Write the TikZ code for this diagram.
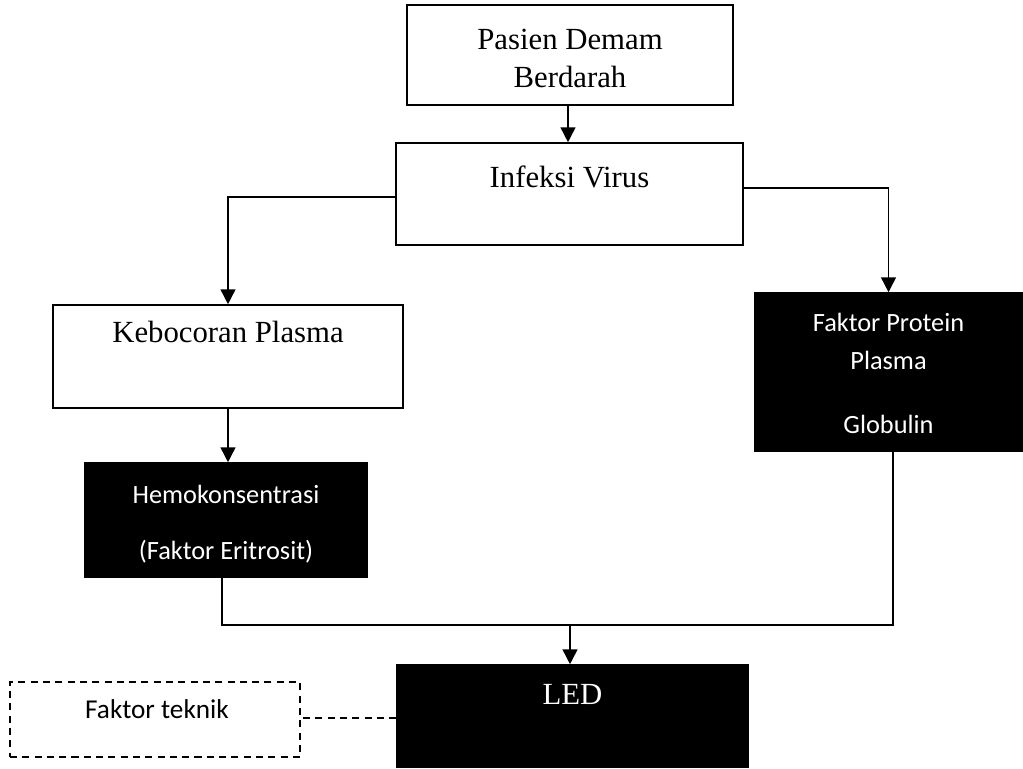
\documentclass[tikz,border=0pt]{standalone}
\usepackage{fontspec}
\setmainfont{Liberation Serif}
\newfontfamily\calib{Carlito}
\usetikzlibrary{arrows.meta}
\begin{document}
\begin{tikzpicture}[x=0.02cm,y=-0.02cm,
  wbox/.style={draw,line width=0.9pt,fill=white,inner sep=0pt},
  bbox/.style={draw,line width=0.9pt,fill=black,inner sep=0pt},
  dbox/.style={draw,dashed,line width=0.9pt,inner sep=0pt,dash pattern=on 4pt off 3pt},
  stxt/.style={font=\fontsize{17.5}{21}\selectfont,inner sep=0pt,anchor=base},
  btxt/.style={font=\calib\fontsize{15}{18}\selectfont,text=white,inner sep=0pt,anchor=base},
  line/.style={line width=0.9pt},
  arr/.style={line width=0.9pt,-{Triangle[length=8.5pt,width=8.5pt]}}]
\useasboundingbox[fill=white] (0,0) rectangle (1023,768);
% boxes
\node[wbox,minimum width=326*0.02cm,minimum height=100*0.02cm] (pas) at (570,55) {};
\node[stxt] (pasT1) at (570,49) {Pasien Demam};
\node[stxt] (pasT2) at (570,87) {Berdarah};
\node[wbox,minimum width=347*0.02cm,minimum height=102*0.02cm] (inf) at (569.5,194) {};
\node[stxt] (infT) at (569.5,187) {Infeksi Virus};
\node[wbox,minimum width=350*0.02cm,minimum height=103*0.02cm] (keb) at (228,356.5) {};
\node[stxt] (kebT) at (228,342) {Kebocoran Plasma};
\node[bbox,minimum width=282*0.02cm,minimum height=114*0.02cm] (hem) at (226,520) {};
\node[btxt] (hemT1) at (226,503) {Hemokonsentrasi};
\node[btxt] (hemT2) at (226,559) {(Faktor Eritrosit)};
\node[bbox,minimum width=267*0.02cm,minimum height=158*0.02cm] (fp) at (888.5,372) {};
\node[btxt] (fpT1) at (888.5,331) {Faktor Protein};
\node[btxt] (fpT2) at (888.5,369) {Plasma};
\node[btxt] (fpT3) at (888.5,433) {Globulin};
\node[bbox,minimum width=351*0.02cm,minimum height=102*0.02cm] (led) at (572.5,716) {};
\node[stxt,text=white] (ledT) at (572.5,704) {LED};
\node[dbox,minimum width=290*0.02cm,minimum height=75*0.02cm] (ft) at (155,719.5) {};
\node[btxt,text=black,font=\calib\fontsize{15.5}{18}\selectfont] (ftT) at (157,718) {Faktor teknik};
% connectors
\draw[arr] (pas.south -| 568,0) -- (inf.north -| 568,0);
\coordinate (yl) at (0,197);
\coordinate (yr) at (0,188);
\draw[arr] (inf.west |- yl) -| (keb.north);
\draw[arr] (inf.east |- yr) -| (fp.north);
\draw[arr] (keb.south) -- (keb.south |- hem.north);
\coordinate (jl) at (222,625);
\coordinate (jr) at (893,625);
\draw[line] (hem.south -| jl) -- (jl) -- (jr) -- (fp.south -| jr);
\coordinate (jm) at (570,625);
\draw[arr] (jm) -- (led.north -| jm);
\coordinate (yd) at (0,718);
\draw[line,dashed,dash pattern=on 4pt off 3pt] (led.west |- yd) -- (ft.east |- yd);
\end{tikzpicture}
\end{document}
